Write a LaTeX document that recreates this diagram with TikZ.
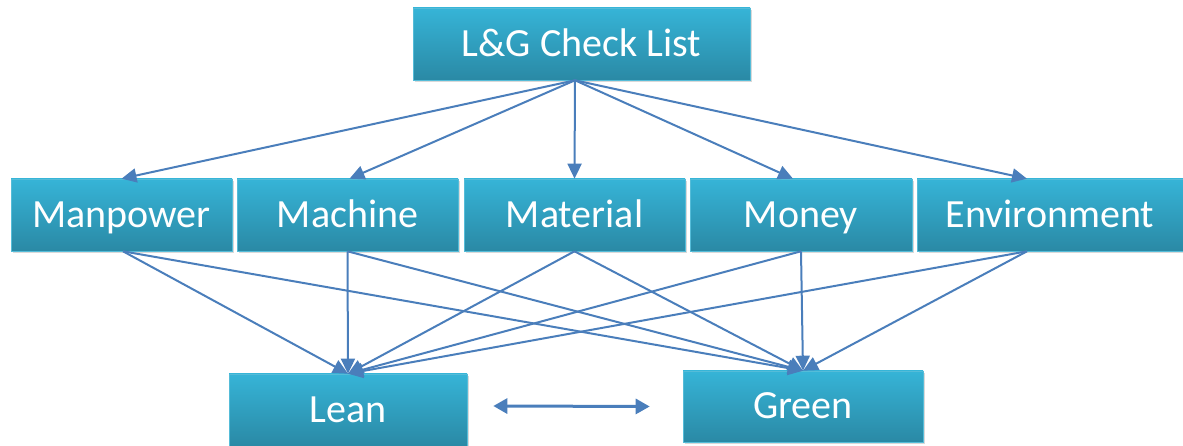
\documentclass[tikz,border=0pt]{standalone}
\usepackage{fontspec}
\setmainfont{Carlito}
\usetikzlibrary{positioning, arrows.meta, shadows, calc}
\definecolor{bTop}{HTML}{36B4D7}
\definecolor{bBot}{HTML}{2A89A5}
\definecolor{bEdge}{HTML}{55BCD8}
\definecolor{lBlue}{HTML}{4A7EBB}

\begin{document}
\begin{tikzpicture}[x=1pt, y=1pt,
  box/.style={draw=bEdge, line width=0.6pt, top color=bTop, bottom color=bBot,
              text=white, font=\fontsize{40}{44}\selectfont, inner sep=0pt,
              text height=25pt, text depth=0pt, minimum height=72pt,
              drop shadow={shadow xshift=2pt, shadow yshift=-2.5pt, opacity=0.3}},
  link/.style={draw=lBlue, line width=2pt, -{Triangle[length=15pt, width=14pt]}},
  both/.style={draw=lBlue, line width=3pt,
               {Triangle[length=14pt, width=15pt]}-{Triangle[length=14pt, width=15pt]}},
]
  \useasboundingbox (0,0) rectangle (1183,446);

  % top
  \node[box, minimum width=337pt] (checklist) at (581.5, 402) {L\&G Check List};

  % five M's
  \node[box, minimum width=221pt] (manpower)    at (121.5, 231) {Manpower};
  \node[box, minimum width=221pt] (machine)     at (347.5, 231) {Machine};
  \node[box, minimum width=221pt] (material)    at (574.5, 231) {Material};
  \node[box, minimum width=222pt] (money)       at (801, 231)   {Money};
  \node[box, minimum width=266pt] (environment) at (1050, 231)  {Environment};

  % targets
  \node[box, minimum width=238pt] (lean)  at (348, 36)  {Lean};
  \node[box, minimum width=240pt, minimum height=71pt] (green) at (803, 39.5) {Green};

  % check list -> factors
  \draw[link] ([xshift=-6.5pt]checklist.south) -- (manpower.north);
  \draw[link] ([xshift=-6.5pt]checklist.south) -- ([xshift=2pt]machine.north);
  \draw[link] ([xshift=-6.5pt]checklist.south) -- (material.north);
  \draw[link] ([xshift=-6.5pt]checklist.south) -- ([xshift=-8pt]money.north);
  \draw[link] ([xshift=-6.5pt]checklist.south) -- ([xshift=-23pt]environment.north);

  % factors -> lean / green
  \draw[link] ([xshift=1.5pt]manpower.south) -- (lean.north);
  \draw[link] ([xshift=1.5pt]manpower.south) -- (green.north);
  \draw[link] (machine.south) -- (lean.north);
  \draw[link] (machine.south) -- (green.north);
  \draw[link] (material.south) -- (lean.north);
  \draw[link] (material.south) -- (green.north);
  \draw[link] (money.south) -- (lean.north);
  \draw[link] (money.south) -- (green.north);
  \draw[link] ([xshift=-23pt]environment.south) -- (lean.north);
  \draw[link] ([xshift=-23pt]environment.south) -- (green.north);

  % lean <-> green
  \draw[both] ([xshift=26pt, yshift=4pt]lean.east) -- ([xshift=-33pt]green.west);
\end{tikzpicture}
\end{document}
